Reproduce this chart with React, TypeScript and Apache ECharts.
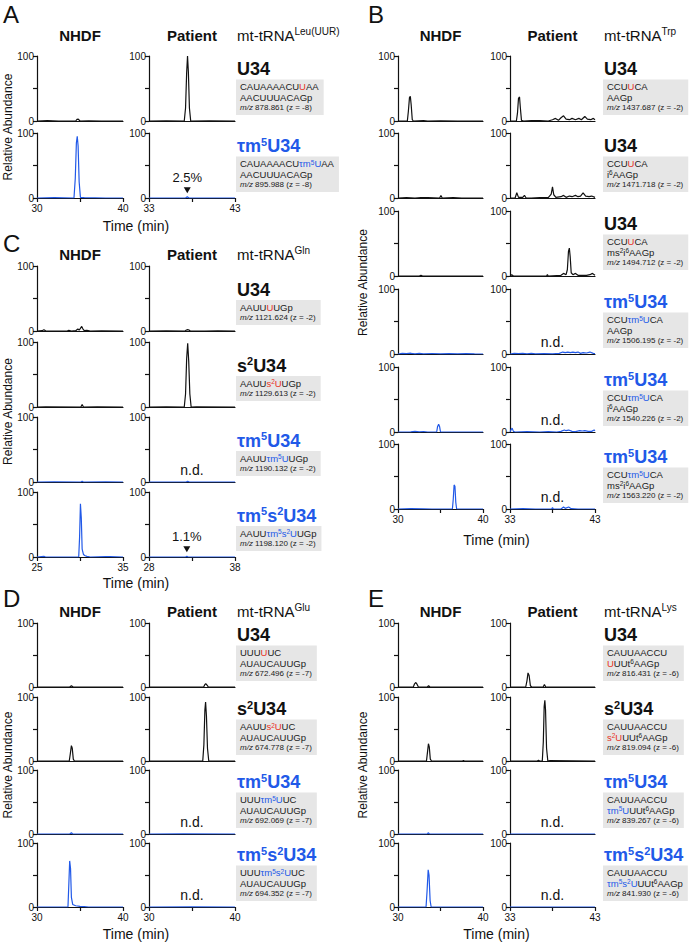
import React, { useEffect, useRef } from 'react';
import * as echarts from 'echarts';

type Pt = [number, number];

// ---------- Panel A : mt-tRNA Leu(UUR) ----------
const A_NHDF_RANGE = [30, 40];
const A_PAT_RANGE = [33, 43];
const A_NHDF_U34: Pt[] = [[30,0],[31.2,0.5],[32.5,0],[34.5,0],[34.65,2.5],[34.8,3],[35.0,0],[36,0.3],[37.5,0],[40,0]];
const A_PAT_U34: Pt[] = [[33,0],[35,0.3],[37.1,0],[37.25,20],[37.38,75],[37.48,100],[37.58,75],[37.7,20],[37.85,0],[40,0.3],[43,0]];
const A_NHDF_TM5U34: Pt[] = [[30,0],[32,0.5],[34.3,0],[34.45,30],[34.58,85],[34.68,95],[34.78,80],[34.9,25],[35.05,1],[35.5,0.5],[38,0],[40,0]];
const A_PAT_TM5U34: Pt[] = [[33,0],[37.25,0],[37.45,2],[37.65,0],[43,0]];
const A_PERCENT = { t: 37.45, v: 12, label: '2.5%' };

// ---------- Panel B : mt-tRNA Trp ----------
const B_NHDF_RANGE = [30, 40];
const B_PAT_RANGE = [33, 43];
const B_NHDF_U34: Pt[] = [[30,0],[31.1,0],[31.22,15],[31.35,36],[31.45,38],[31.55,25],[31.68,2],[31.8,0],[33,0.5],[33.5,0],[35,0.3],[37,0],[40,0]];
const B_PAT_U34: Pt[] = [[33,0],[33.75,0],[33.88,12],[34.0,35],[34.12,37],[34.22,20],[34.35,1],[34.6,0],[35.5,0.5],[36.5,0.5],[37.5,0],[38.0,2],[38.35,4],[38.7,1],[39.0,5],[39.3,8],[39.6,3],[40.0,2],[40.3,4],[40.7,2],[41.1,4],[41.4,2],[41.8,7],[42.1,3],[42.5,2],[42.8,4],[43,2]];
const B_NHDF_U34_I6: Pt[] = [[30,0],[31,0.5],[32,0],[32.7,0.8],[33.5,0.5],[34.9,0],[35.05,4],[35.2,0],[36.5,0.5],[37.5,0],[40,0]];
const B_PAT_U34_I6: Pt[] = [[33,0],[33.6,0],[33.8,8],[34.0,1],[34.5,1],[34.7,4],[34.9,0],[35.5,0],[36.5,0.5],[37.5,0.5],[37.85,6],[38.0,17],[38.15,5],[38.4,1],[39.0,2],[39.3,4],[39.6,1],[40.0,3],[40.3,2],[40.7,4],[41.0,2],[41.3,3],[41.6,8],[41.9,3],[42.3,2],[42.6,3],[43,1]];
const B_NHDF_U34_MS2I6: Pt[] = [[30,0],[32.5,0],[32.7,1],[32.9,0],[40,0]];
const B_PAT_U34_MS2I6: Pt[] = [[33,0],[33.2,2],[33.4,0],[35,0],[37.3,0],[37.4,2],[37.5,0],[39.0,1],[39.3,4],[39.6,2],[39.75,10],[39.88,38],[39.98,43],[40.08,30],[40.2,5],[40.4,2],[40.7,4],[41.0,1],[42,1],[42.4,2],[42.7,4],[43,1]];
const B_NHDF_TM5U34: Pt[] = [[30,0],[30.5,1],[31,0.5],[31.5,1.2],[32,0.3],[32.5,1],[33,0.3],[34,0.8],[35,0.2],[36,0.6],[37,0.2],[38,0.5],[39,0.2],[40,0]];
const B_PAT_TM5U34: Pt[] = [[33,0],[33.5,1],[34,0.5],[34.5,1],[35,0.3],[35.5,1],[36,0.3],[37,0.5],[38,0.3],[38.8,1],[39.2,3],[39.5,2],[39.8,3],[40.1,2],[40.4,3],[40.7,2],[41.0,3],[41.3,1],[41.6,2],[42,1.5],[42.4,3],[42.8,1],[43,0.5]];
const B_NHDF_TM5U34_I6: Pt[] = [[30,0],[31.5,0.3],[32,1],[32.5,0.3],[33,0.8],[33.5,0],[34.55,0],[34.65,8],[34.78,12],[34.9,8],[35.0,0],[40,0]];
const B_PAT_TM5U34_I6: Pt[] = [[33,0],[33.1,3],[33.25,6],[33.4,1],[33.6,0],[35,0.5],[36.5,0],[37.5,0.5],[38.5,0],[39.0,1],[39.4,3],[39.6,2],[39.9,3],[40.3,1],[40.7,0.5],[41.2,2],[41.5,1.5],[41.8,2],[42.2,1],[42.6,1],[42.9,3],[43,2]];
const B_NHDF_TM5U34_MS2I6: Pt[] = [[30,0],[31.5,0.5],[33,0.3],[34,0],[36.4,0],[36.5,15],[36.6,37],[36.7,35],[36.8,10],[36.9,0],[40,0]];
const B_PAT_TM5U34_MS2I6: Pt[] = [[33,0],[34.5,0.5],[36,0],[37.9,0],[38.0,2],[38.1,0],[39.0,0],[39.3,3],[39.5,1],[39.9,3],[40.2,0.5],[41,0],[43,0]];

// ---------- Panel C : mt-tRNA Gln ----------
const C_NHDF_RANGE = [25, 35];
const C_PAT_RANGE = [28, 38];
const C_NHDF_U34: Pt[] = [[25,0],[25.6,0.5],[25.8,2],[26,0.3],[27,0],[28.5,0],[28.7,1],[29,0],[29.5,0.5],[29.75,3],[29.9,1.5],[30.05,4],[30.2,7],[30.35,3],[30.5,0.5],[30.8,1],[31.2,0],[32.5,0.3],[35,0]];
const C_PAT_U34: Pt[] = [[28,0],[30,0.2],[32.2,0],[32.35,1.5],[32.5,2],[32.65,1.5],[32.8,0],[34.5,0],[36,0.3],[38,0]];
const C_NHDF_S2U34: Pt[] = [[25,0],[26,0.3],[30.1,0],[30.25,4],[30.4,0],[32,0.3],[35,0]];
const C_PAT_S2U34: Pt[] = [[28,0],[30,0.2],[32.1,0],[32.25,20],[32.38,75],[32.5,98],[32.62,70],[32.75,20],[32.9,0],[33.5,0.3],[38,0]];
const C_NHDF_TM5U34: Pt[] = [[25,0],[27,0.3],[30.1,0],[30.25,1.2],[30.4,0],[33,0.3],[35,0]];
const C_PAT_TM5U34: Pt[] = [[28,0],[32.3,0],[32.5,1],[32.7,0],[38,0]];
const C_NHDF_TM5S2U34: Pt[] = [[25,0],[25.8,1],[26,0],[29.85,0],[29.95,30],[30.05,82],[30.15,60],[30.25,12],[30.4,4],[30.6,2],[30.8,1],[31.2,0],[33,0.5],[33.5,0.5],[35,0]];
const C_PAT_TM5S2U34: Pt[] = [[28,0],[32.25,0],[32.4,1],[32.55,0],[38,0]];
const C_PERCENT = { t: 32.4, v: 12, label: '1.1%' };

// ---------- Panel D : mt-tRNA Glu ----------
const D_NHDF_RANGE = [30, 40];
const D_PAT_RANGE = [30, 40];
const D_NHDF_U34: Pt[] = [[30,0],[33.8,0],[34.0,2],[34.2,0],[40,0]];
const D_PAT_U34: Pt[] = [[30,0],[36.35,0],[36.5,4],[36.6,5],[36.75,3],[36.9,0],[40,0]];
const D_NHDF_S2U34: Pt[] = [[30,0],[33.75,0],[33.88,12],[34.0,24],[34.1,20],[34.22,3],[34.35,0],[40,0]];
const D_PAT_S2U34: Pt[] = [[30,0],[36.25,0],[36.38,25],[36.5,80],[36.58,92],[36.68,70],[36.8,20],[36.95,0],[40,0]];
const D_NHDF_TM5U34: Pt[] = [[30,0],[33.8,0],[34.0,2],[34.15,0],[40,0]];
const D_PAT_TM5U34: Pt[] = [[30,0],[34,0.2],[40,0]];
const D_NHDF_TM5S2U34: Pt[] = [[30,0],[33.6,0],[33.7,35],[33.8,72],[33.9,60],[34.0,15],[34.15,4],[34.5,2],[35.0,1],[35.5,0.5],[36,0],[40,0]];
const D_PAT_TM5S2U34: Pt[] = [[30,0],[35,0.3],[40,0]];

// ---------- Panel E : mt-tRNA Lys ----------
const E_NHDF_RANGE = [30, 40];
const E_PAT_RANGE = [33, 43];
const E_NHDF_U34: Pt[] = [[30,0],[31.8,0],[31.95,5],[32.1,7],[32.25,4],[32.4,0],[33.45,0],[33.6,2],[33.75,0],[40,0]];
const E_PAT_U34: Pt[] = [[33,0],[34.85,0],[35.0,10],[35.12,22],[35.25,18],[35.4,2],[35.55,0],[36.9,0],[37.05,4],[37.2,0],[43,0]];
const E_NHDF_S2U34: Pt[] = [[30,0],[33.35,0],[33.48,15],[33.58,27],[33.68,22],[33.8,3],[33.95,0],[37.6,0],[37.7,1],[37.8,0],[40,0]];
const E_PAT_S2U34: Pt[] = [[33,0],[36.2,0],[36.35,1],[36.5,0],[36.8,0],[36.92,30],[37.02,85],[37.1,95],[37.18,80],[37.3,20],[37.45,0],[37.7,0.5],[43,0]];
const E_NHDF_TM5U34: Pt[] = [[30,0],[33.45,0],[33.55,2],[33.7,0],[40,0]];
const E_PAT_TM5U34: Pt[] = [[33,0],[43,0]];
const E_NHDF_TM5S2U34: Pt[] = [[30,0],[33.3,0],[33.42,25],[33.55,58],[33.65,50],[33.78,10],[33.9,0],[40,0]];
const E_PAT_TM5S2U34: Pt[] = [[33,0],[43,0]];

// ---------- Y axis ticks ----------
const Y_TICKS = [0, 50, 100];
const Y_LABELS = ['0', '', '100'];

// ---------- styling ----------
const FONT = 'Liberation Sans, Arial, Helvetica, sans-serif';
const INK = '#111';
const SEQ = '#1a1a1a';
const BLUE = '#2159e8';
const RED = '#e8321f';
const LH = 10.5;

const T_U34 = '{tk|U34}';
const T_S2U34 = '{tk|s}{tks|2}{tk|U34}';
const T_TM5U34 = '{tb|τm}{tbs|5}{tb|U34}';
const T_TM5S2U34 = '{tb|τm}{tbs|5}{tb|s}{tbs|2}{tb|U34}';
const MZ = (s: string) => `{mi|m/z}{m| ${s}}`;

type Row = { n: Pt[]; p: Pt[]; blue: boolean; title: string; seq: string; nd?: boolean; mark?: { t: number; v: number; label: string } };
type Panel = {
  letter: string; side: 'L' | 'R'; tops: number[]; h: number; nr: number[]; pr: number[];
  headerY: number; letterY: number; trna: string; sup: string; timeY: number; rows: Row[];
};

const PANELS: Panel[] = [
  {
    letter: 'A', side: 'L', tops: [56, 133], h: 65, nr: A_NHDF_RANGE, pr: A_PAT_RANGE,
    headerY: 35, letterY: 14, trna: 'mt-tRNA', sup: 'Leu(UUR)', timeY: 226,
    rows: [
      { n: A_NHDF_U34, p: A_PAT_U34, blue: false, title: T_U34, seq: 'CAUAAAACU{r|U}AA\nAACUUUACAGp\n' + MZ('878.861 (z = -8)') },
      { n: A_NHDF_TM5U34, p: A_PAT_TM5U34, blue: true, title: T_TM5U34, seq: 'CAUAAAACU{b|τm}{bs|5}{b|U}AA\nAACUUUACAGp\n' + MZ('895.988 (z = -8)'), mark: A_PERCENT },
    ],
  },
  {
    letter: 'B', side: 'R', tops: [56, 133, 211, 289, 367, 444], h: 65, nr: B_NHDF_RANGE, pr: B_PAT_RANGE,
    headerY: 35, letterY: 14, trna: 'mt-tRNA', sup: 'Trp', timeY: 540,
    rows: [
      { n: B_NHDF_U34, p: B_PAT_U34, blue: false, title: T_U34, seq: 'CCU{r|U}CA\nAAGp\n' + MZ('1437.687 (z = -2)') },
      { n: B_NHDF_U34_I6, p: B_PAT_U34_I6, blue: false, title: T_U34, seq: 'CCU{r|U}CA\ni{ks|6}AAGp\n' + MZ('1471.718 (z = -2)') },
      { n: B_NHDF_U34_MS2I6, p: B_PAT_U34_MS2I6, blue: false, title: T_U34, seq: 'CCU{r|U}CA\nms{ks|2}i{ks|6}AAGp\n' + MZ('1494.712 (z = -2)') },
      { n: B_NHDF_TM5U34, p: B_PAT_TM5U34, blue: true, title: T_TM5U34, seq: 'CCU{b|τm}{bs|5}{b|U}CA\nAAGp\n' + MZ('1506.195 (z = -2)'), nd: true },
      { n: B_NHDF_TM5U34_I6, p: B_PAT_TM5U34_I6, blue: true, title: T_TM5U34, seq: 'CCU{b|τm}{bs|5}{b|U}CA\ni{ks|6}AAGp\n' + MZ('1540.226 (z = -2)'), nd: true },
      { n: B_NHDF_TM5U34_MS2I6, p: B_PAT_TM5U34_MS2I6, blue: true, title: T_TM5U34, seq: 'CCU{b|τm}{bs|5}{b|U}CA\nms{ks|2}i{ks|6}AAGp\n' + MZ('1563.220 (z = -2)'), nd: true },
    ],
  },
  {
    letter: 'C', side: 'L', tops: [266, 342, 417, 492], h: 65, nr: C_NHDF_RANGE, pr: C_PAT_RANGE,
    headerY: 254, letterY: 243, trna: 'mt-tRNA', sup: 'Gln', timeY: 583,
    rows: [
      { n: C_NHDF_U34, p: C_PAT_U34, blue: false, title: T_U34, seq: 'AAUU{r|U}UGp\n' + MZ('1121.624 (z = -2)') },
      { n: C_NHDF_S2U34, p: C_PAT_S2U34, blue: false, title: T_S2U34, seq: 'AAUU{r|s}{rs|2}{r|U}UGp\n' + MZ('1129.613 (z = -2)') },
      { n: C_NHDF_TM5U34, p: C_PAT_TM5U34, blue: true, title: T_TM5U34, seq: 'AAUU{b|τm}{bs|5}{b|U}UGp\n' + MZ('1190.132 (z = -2)'), nd: true },
      { n: C_NHDF_TM5S2U34, p: C_PAT_TM5S2U34, blue: true, title: T_TM5S2U34, seq: 'AAUU{b|τm}{bs|5}{b|s}{bs|2}{b|U}UGp\n' + MZ('1198.120 (z = -2)'), mark: C_PERCENT },
    ],
  },
  {
    letter: 'D', side: 'L', tops: [623, 697, 770, 843], h: 64, nr: D_NHDF_RANGE, pr: D_PAT_RANGE,
    headerY: 611, letterY: 598, trna: 'mt-tRNA', sup: 'Glu', timeY: 934,
    rows: [
      { n: D_NHDF_U34, p: D_PAT_U34, blue: false, title: T_U34, seq: 'UUU{r|U}UC\nAUAUCAUUGp\n' + MZ('672.496 (z = -7)') },
      { n: D_NHDF_S2U34, p: D_PAT_S2U34, blue: false, title: T_S2U34, seq: 'AAUU{r|s}{rs|2}{r|U}UC\nAUAUCAUUGp\n' + MZ('674.778 (z = -7)') },
      { n: D_NHDF_TM5U34, p: D_PAT_TM5U34, blue: true, title: T_TM5U34, seq: 'UUU{b|τm}{bs|5}{b|U}UC\nAUAUCAUUGp\n' + MZ('692.069 (z = -7)'), nd: true },
      { n: D_NHDF_TM5S2U34, p: D_PAT_TM5S2U34, blue: true, title: T_TM5S2U34, seq: 'UUU{b|τm}{bs|5}{b|s}{bs|2}{b|U}UC\nAUAUCAUUGp\n' + MZ('694.352 (z = -7)'), nd: true },
    ],
  },
  {
    letter: 'E', side: 'R', tops: [623, 697, 770, 843], h: 64, nr: E_NHDF_RANGE, pr: E_PAT_RANGE,
    headerY: 611, letterY: 598, trna: 'mt-tRNA', sup: 'Lys', timeY: 934,
    rows: [
      { n: E_NHDF_U34, p: E_PAT_U34, blue: false, title: T_U34, seq: 'CAUUAACCU\n{r|U}UUt{ks|6}AAGp\n' + MZ('816.431 (z = -6)') },
      { n: E_NHDF_S2U34, p: E_PAT_S2U34, blue: false, title: T_S2U34, seq: 'CAUUAACCU\n{r|s}{rs|2}{r|U}UUt{ks|6}AAGp\n' + MZ('819.094 (z = -6)') },
      { n: E_NHDF_TM5U34, p: E_PAT_TM5U34, blue: true, title: T_TM5U34, seq: 'CAUUAACCU\n{b|τm}{bs|5}{b|U}UUt{ks|6}AAGp\n' + MZ('839.267 (z = -6)'), nd: true },
      { n: E_NHDF_TM5S2U34, p: E_PAT_TM5S2U34, blue: true, title: T_TM5S2U34, seq: 'CAUUAACCU\n{b|τm}{bs|5}{b|s}{bs|2}{b|U}UUt{ks|6}AAGp\n' + MZ('841.930 (z = -6)'), nd: true },
    ],
  },
];

const COLS = {
  L: { nx: 37, px: 149, w: 86, lx: 237, relX: 8, letterX: 3 },
  R: { nx: 398, px: 510, w: 85, lx: 604, relX: 363, letterX: 368 },
};

const SEQ_FS = 9.5;
const SUP_FS = 6.5;
const seqRich: any = {
  k: { fill: SEQ, color: SEQ, fontSize: SEQ_FS, lineHeight: LH, fontFamily: FONT },
  r: { fill: RED, color: RED, fontSize: SEQ_FS, lineHeight: LH, fontFamily: FONT },
  rs: { fill: RED, color: RED, fontSize: SUP_FS, lineHeight: LH, fontFamily: FONT, verticalAlign: 'top' },
  b: { fill: BLUE, color: BLUE, fontSize: SEQ_FS, lineHeight: LH, fontFamily: FONT },
  bs: { fill: BLUE, color: BLUE, fontSize: SUP_FS, lineHeight: LH, fontFamily: FONT, verticalAlign: 'top' },
  ks: { fill: SEQ, color: SEQ, fontSize: SUP_FS, lineHeight: LH, fontFamily: FONT, verticalAlign: 'top' },
  mi: { fill: SEQ, color: SEQ, fontSize: 8, lineHeight: LH, fontFamily: FONT, fontStyle: 'italic' },
  m: { fill: SEQ, color: SEQ, fontSize: 8, lineHeight: LH, fontFamily: FONT },
};
const titleRich: any = {
  tk: { fill: INK, fontSize: 18, fontWeight: 'bold', lineHeight: 20, fontFamily: FONT },
  tks: { fill: INK, fontSize: 11, fontWeight: 'bold', lineHeight: 20, fontFamily: FONT, verticalAlign: 'top' },
  tb: { fill: BLUE, fontSize: 18, fontWeight: 'bold', lineHeight: 20, fontFamily: FONT },
  tbs: { fill: BLUE, fontSize: 11, fontWeight: 'bold', lineHeight: 20, fontFamily: FONT, verticalAlign: 'top' },
};
const headRich: any = {
  h: { fill: INK, fontSize: 15, lineHeight: 18, fontFamily: FONT },
  hs: { fill: INK, fontSize: 10, lineHeight: 18, fontFamily: FONT, verticalAlign: 'top' },
};

// wrap every plain segment of each line in an explicit {k|...} token
const wrapPlain = (s: string) =>
  s.split('\n').map((line) =>
    line.split(/(\{[a-z]+\|[^}]*\})/).filter((p) => p.length > 0)
      .map((p) => (p.charAt(0) === '{' ? p : `{k|${p}}`)).join('')
  ).join('\n');

function txt(x: number, y: number, text: string, o: any = {}) {
  return {
    type: 'text', x, y, silent: true, rotation: o.rotation || 0,
    style: {
      text, fill: o.fill || INK, fontSize: o.fontSize || 12, fontFamily: FONT,
      fontWeight: o.fontWeight || 'normal', align: o.align || 'left', verticalAlign: o.va || 'middle',
      textAlign: o.align || 'left', textVerticalAlign: o.va || 'middle',
      lineHeight: o.lineHeight, rich: o.rich, backgroundColor: o.bg, padding: o.padding,
    },
  };
}

function buildOption() {
  const grid: any[] = [], xAxis: any[] = [], yAxis: any[] = [], series: any[] = [], graphic: any[] = [];
  const axisLine = { show: true, onZero: false, lineStyle: { color: INK, width: 1.2 } };
  PANELS.forEach((pn) => {
    const c = COLS[pn.side];
    const nRows = pn.rows.length;
    graphic.push(txt(c.letterX, pn.letterY, pn.letter, { fontSize: 24 }));
    graphic.push(txt(c.nx + c.w / 2, pn.headerY, 'NHDF', { fontSize: 15, fontWeight: 'bold', align: 'center' }));
    graphic.push(txt(c.px + c.w / 2, pn.headerY, 'Patient', { fontSize: 15, fontWeight: 'bold', align: 'center' }));
    graphic.push(txt(c.lx, pn.headerY, `{h|${pn.trna}}{hs|${pn.sup}}`, { rich: headRich, fontSize: 15 }));
    const yTop = pn.tops[0];
    const yBot = pn.tops[nRows - 1] + pn.h;
    graphic.push(txt(c.relX, (yTop + yBot) / 2, 'Relative Abundance', { fontSize: 12, align: 'center', rotation: Math.PI / 2 }));
    graphic.push(txt((c.nx + c.px + c.w) / 2, pn.timeY, 'Time (min)', { fontSize: 14, align: 'center' }));

    pn.rows.forEach((row, ri) => {
      const top = pn.tops[ri];
      const last = ri === nRows - 1;
      const color = row.blue ? BLUE : INK;
      [[c.nx, pn.nr, row.n, false], [c.px, pn.pr, row.p, true]].forEach(([left, range, data, isPat]: any) => {
        const idx = grid.length;
        const [mn, mx] = range;
        grid.push({ left, top, width: c.w, height: pn.h });
        xAxis.push({
          type: 'value', gridIndex: idx, min: mn, max: mx, interval: 5,
          axisLine, splitLine: { show: false },
          axisTick: { show: last, length: 4, lineStyle: { color: INK, width: 1.2 } },
          axisLabel: {
            show: last, fontSize: 10, color: INK, fontFamily: FONT, margin: 5, showMinLabel: true, showMaxLabel: true,
            formatter: (v: number) => (v === mn || v === mx ? String(v) : ''),
          },
        });
        yAxis.push({
          type: 'value', gridIndex: idx, min: Y_TICKS[0], max: Y_TICKS[2], interval: Y_TICKS[1] - Y_TICKS[0],
          axisLine, splitLine: { show: false },
          axisTick: { show: true, length: 4, lineStyle: { color: INK, width: 1.2 } },
          axisLabel: {
            fontSize: 10, lineHeight: 8, color: INK, fontFamily: FONT, margin: 3,
            formatter: (v: number) => Y_LABELS[Y_TICKS.indexOf(v)] ?? '',
          },
        });
        const s: any = {
          type: 'line', xAxisIndex: idx, yAxisIndex: idx, data, showSymbol: false, symbol: 'none',
          lineStyle: { width: 1.2, color }, itemStyle: { color }, silent: true,
        };
        if (isPat && row.mark) {
          s.markPoint = {
            silent: true, symbol: 'triangle', symbolSize: [7, 6], symbolRotate: 180,
            itemStyle: { color: INK },
            label: { show: true, position: 'top', distance: 3, formatter: row.mark.label, color: INK, fontSize: 13, fontFamily: FONT },
            data: [{ coord: [row.mark.t, row.mark.v] }],
          };
        }
        series.push(s);
      });
      if (row.nd) {
        graphic.push(txt(c.px + c.w / 2, top + pn.h - 12, 'n.d.', { fontSize: 14, align: 'center' }));
      }
      const nLines = row.seq.split('\n').length;
      const boxH = nLines * LH + 4;
      const boxBottom = top + pn.h - 6;
      const boxTop = boxBottom - boxH;
      graphic.push(txt(c.lx, boxTop - 10.5, row.title, { rich: titleRich, fontSize: 18, fontWeight: 'bold', fill: color }));
      graphic.push(txt(c.lx - 1, boxTop, wrapPlain(row.seq), {
        rich: seqRich, fontSize: SEQ_FS, fill: SEQ, lineHeight: LH, va: 'top', bg: '#e6e6e6', padding: [2, 5, 2, 4],
      }));
    });
  });
  return { animation: false, backgroundColor: '#fff', grid, xAxis, yAxis, series, graphic };
}

export default function App() {
  const ref = useRef<HTMLDivElement>(null);
  useEffect(() => {
    if (!ref.current) return;
    const chart = echarts.init(ref.current, undefined, { renderer: 'svg' });
    chart.setOption(buildOption() as any);
    return () => chart.dispose();
  }, []);
  return <div ref={ref} style={{ position: 'absolute', left: 0, top: 0, width: 689, height: 945, background: '#fff' }} />;
}
